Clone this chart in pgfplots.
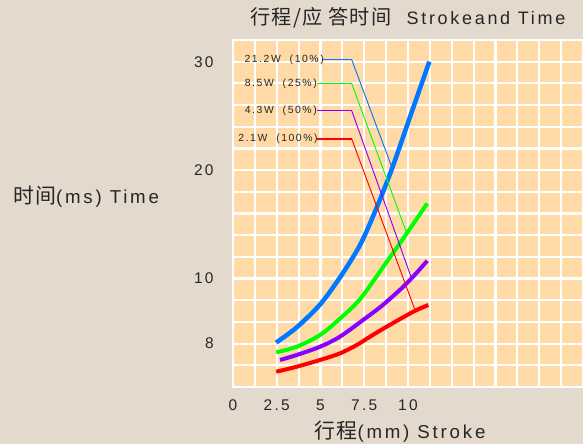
\documentclass[border=0pt]{standalone}
\usepackage{fontspec}
\setmainfont{Liberation Sans}[LetterSpace=15]
\newfontfamily\cjk{Noto Sans CJK SC}[Scale=1.12, LetterSpace=6]
\usepackage{pgfplots}
\pgfplotsset{compat=1.18}
\definecolor{bgcol}{RGB}{227,217,204}
\definecolor{plotcol}{RGB}{255,218,166}
\definecolor{cblue}{RGB}{0,120,255}
\definecolor{cgreen}{RGB}{0,255,0}
\definecolor{cpurple}{RGB}{136,0,255}
\definecolor{cred}{RGB}{255,0,0}
\begin{document}
\begin{tikzpicture}
\fill[bgcol] (-174.75pt,-42.75pt) rectangle (262.5pt,290.25pt);
\begin{axis}[
  at={(0pt,0pt)}, anchor=south west,
  scale only axis, width=262.5pt, height=260.25pt,
  xmin=0, xmax=20, ymin=0, ymax=32,
  axis background/.style={fill=plotcol},
  axis line style={white, line width=1.6pt},
  xtick={0,2.5,5,7.5,10}, xticklabels={0,2.5,5,7.5,10},
  ytick={4,10,20,30}, yticklabels={8,10,20,30},
  minor xtick={0,1.25,...,20}, minor ytick={0,2,...,32},
  grid=minor,
  minor grid style={white, line width=1.6pt},
  major tick length=0pt, minor tick length=0pt,
  /pgf/number format/assume math mode=true,
  ticklabel style={font=\fontsize{11.6}{13}\selectfont, text=black!85},
  xticklabel style={anchor=center, yshift=-13.5pt},
  yticklabel style={anchor=east, xshift=-11pt},
  clip=false,
]
\addplot[cblue, line width=3.4pt, smooth] coordinates {(2.47,4.1) (3.64,5.5) (4.97,7.6) (6.11,10.1) (7.26,13.1) (8.2,16.5) (9.1,20.2) (10.2,25.3) (11.22,30)};
\addplot[cgreen, line width=3pt, smooth] coordinates {(2.47,3.2) (3.64,3.71) (4.97,4.79) (6.11,6.3) (7.26,8.1) (8.59,11.09) (9.93,14.17) (11.1,16.93)};
\addplot[cpurple, line width=3pt, smooth] coordinates {(2.69,2.49) (3.64,2.95) (4.97,3.71) (6.11,4.64) (7.45,6.2) (8.59,7.6) (9.93,9.56) (11.1,11.64)};
\addplot[cred, line width=3pt, smooth] coordinates {(2.47,1.41) (3.64,1.87) (4.97,2.49) (6.11,3.1) (7.07,3.87) (7.83,4.64) (8.78,5.56) (10.3,6.94) (11.16,7.56)};
% leaders
\addplot[cblue, line width=1.3pt] coordinates {(5.09,30.2) (6.78,30.2)};
\addplot[cblue, line width=0.7pt] coordinates {(6.78,30.2) (9.07,20.3)};
\addplot[cgreen, line width=1.3pt] coordinates {(4.8,28) (6.78,28)};
\addplot[cgreen, line width=0.7pt] coordinates {(6.78,28) (9.93,14.17)};
\addplot[cpurple, line width=1.3pt] coordinates {(4.8,25.5) (6.78,25.5)};
\addplot[cpurple, line width=0.7pt] coordinates {(6.78,25.5) (10.17,10.17)};
\addplot[cred, line width=1.3pt] coordinates {(4.8,22.9) (6.78,22.9)};
\addplot[cred, line width=0.7pt] coordinates {(6.78,22.9) (10.4,7.1)};
\begin{scope}[every node/.style={font=\fontsize{7.8}{9}\selectfont, text=black!85, anchor=east, inner sep=0pt}]
\node at (axis cs:5.2,30.2) {21.2W\ \ (10\%)};
\node at (axis cs:4.8,28) {8.5W\ \ (25\%)};
\node at (axis cs:4.8,25.5) {4.3W\ \ (50\%)};
\node at (axis cs:4.85,22.9) {2.1W\ \ (100\%)};
\end{scope}
\node[font=\fontsize{13.5}{15}\selectfont, text=black!85] at (rel axis cs:0.5,1) [yshift=16.5pt] {{\cjk 行程/应 答时间}\ \ Strokeand Time};
\node[font=\fontsize{14}{15}\selectfont, text=black!85] at (rel axis cs:0.477,0) [yshift=-33.75pt] {{\cjk 行程}(mm) Stroke};
\node[font=\fontsize{14}{15}\selectfont, text=black!85] at (rel axis cs:0,0.548) [xshift=-110.25pt] {{\cjk 时间}(ms) Time};
\end{axis}
\pgfresetboundingbox
\useasboundingbox (-174.75pt,-42.75pt) rectangle (262.5pt,290.25pt);
\end{tikzpicture}
\end{document}
